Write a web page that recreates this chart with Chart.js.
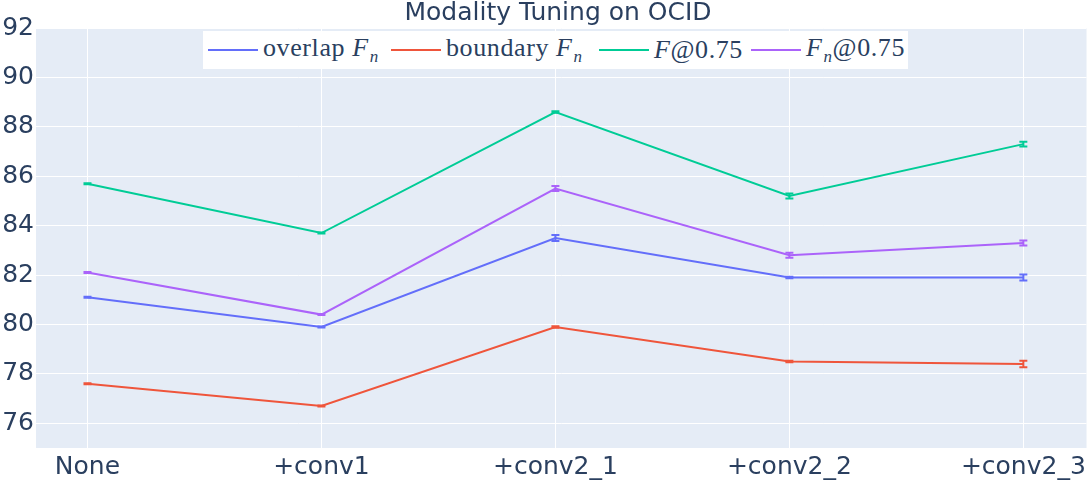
<!DOCTYPE html>
<html>
<head>
<meta charset="utf-8">
<script src="https://cdn.jsdelivr.net/npm/chart.js@4"></script>
<style>
  body { margin: 0; background: #fff; }
  #wrap { position: relative; width: 1090px; height: 480px; }
  #legend {
    position: absolute; left: 203px; top: 31px; height: 38px; width: 705px;
    background: #fff; display: flex; align-items: center; padding-left: 5px; box-sizing: border-box;
    font-family: "Liberation Serif", "DejaVu Serif", serif; font-size: 26px; color: #2a3f5f;
    letter-spacing: 0.6px; white-space: nowrap;
  }
  #legend .item { display: flex; align-items: center; flex: none; }
  #legend .swatch { width: 50px; height: 2px; margin-right: 5px; flex: none; }
  #legend i { font-style: italic; }
  #legend sub { font-size: 17px; font-style: italic; vertical-align: -6px; margin-left: 1px; }
</style>
</head>
<body>
<div id="wrap">
  <canvas id="chart" width="1090" height="480"></canvas>
  <div id="legend"></div>
</div>
<script>
var categories = ['None', '+conv1', '+conv2_1', '+conv2_2', '+conv2_3'];
var yTicks = [76, 78, 80, 82, 84, 86, 88, 90, 92];

var overlapFn = [81.1, 79.9, 83.5, 81.9, 81.9];
var overlapErr = [0.02, 0.02, 0.12, 0.03, 0.12];
var boundaryFn = [77.6, 76.7, 79.9, 78.5, 78.4];
var boundaryErr = [0.02, 0.02, 0.03, 0.03, 0.13];
var fAt075 = [85.7, 83.7, 88.6, 85.2, 87.3];
var fAt075Err = [0.02, 0.02, 0.03, 0.1, 0.1];
var fnAt075 = [82.1, 80.4, 85.5, 82.8, 83.3];
var fnAt075Err = [0.02, 0.02, 0.1, 0.1, 0.1];

var seriesNames = ['overlap <i>F</i><sub>n</sub>', 'boundary <i>F</i><sub>n</sub>', '<i>F</i>@0.75', '<i>F</i><sub>n</sub>@0.75'];
var colors = ['#636efa', '#EF553B', '#00cc96', '#ab63fa'];
// legend item widths, so swatches land where the reference has them
var legendWidths = [183, 208, 152, 155];

function pts(arr) {
  return arr.map(function(v, i) { return { x: i, y: v }; });
}

var series = [overlapFn, boundaryFn, fAt075, fnAt075];
var errors = [overlapErr, boundaryErr, fAt075Err, fnAt075Err];

var datasets = series.map(function(s, k) {
  return {
    label: seriesNames[k].replace(/<[^>]+>/g, ''),
    data: pts(s),
    errors: errors[k],
    borderColor: colors[k],
    backgroundColor: colors[k],
    borderWidth: 2,
    pointRadius: 0,
    tension: 0
  };
});

var bgPlugin = {
  id: 'plotBg',
  beforeDraw: function(chart) {
    var a = chart.chartArea, c = chart.ctx;
    c.save();
    c.fillStyle = '#E5ECF6';
    c.fillRect(a.left, a.top, a.right - a.left, a.bottom - a.top);
    c.restore();
  },
  afterDraw: function(chart) {
    var c = chart.ctx;
    c.save();
    c.fillStyle = '#2a3f5f';
    c.font = '25px "DejaVu Sans", sans-serif';
    c.textAlign = 'center';
    c.textBaseline = 'middle';
    c.fillText('Modality Tuning on OCID', 558, 13);
    c.restore();
  }
};

var errorBars = {
  id: 'errorBars',
  afterDatasetsDraw: function(chart) {
    var c = chart.ctx, xs = chart.scales.x, ys = chart.scales.y;
    chart.data.datasets.forEach(function(ds) {
      c.save();
      c.strokeStyle = ds.borderColor;
      c.lineWidth = 2;
      ds.data.forEach(function(p, i) {
        var e = ds.errors[i];
        var x = xs.getPixelForValue(p.x);
        var y1 = ys.getPixelForValue(p.y + e), y2 = ys.getPixelForValue(p.y - e);
        c.beginPath();
        c.moveTo(x, y1); c.lineTo(x, y2);
        c.moveTo(x - 4, y1); c.lineTo(x + 4, y1);
        c.moveTo(x - 4, y2); c.lineTo(x + 4, y2);
        c.stroke();
      });
      c.restore();
    });
  }
};

new Chart(document.getElementById('chart').getContext('2d'), {
  type: 'line',
  data: { datasets: datasets },
  plugins: [bgPlugin, errorBars],
  options: {
    responsive: false,
    animation: false,
    layout: { padding: { top: 28, right: 3, left: 0, bottom: 0 } },
    plugins: { legend: { display: false }, tooltip: { enabled: false } },
    scales: {
      x: {
        type: 'linear',
        min: -0.22,
        max: 4.27,
        afterBuildTicks: function(scale) {
          scale.ticks = categories.map(function(_, i) { return { value: i }; });
        },
        afterFit: function(scale) { scale.height = 32; },
        grid: { color: '#ffffff', lineWidth: 1, drawTicks: false },
        border: { display: false },
        ticks: {
          color: '#2a3f5f',
          font: { family: '"DejaVu Sans", sans-serif', size: 25 },
          padding: 4,
          maxRotation: 0,
          autoSkip: false,
          callback: function(v) { return categories[v]; }
        }
      },
      y: {
        min: 75,
        max: 92,
        afterBuildTicks: function(scale) {
          scale.ticks = yTicks.map(function(v) { return { value: v }; });
        },
        afterFit: function(scale) { scale.width = 36; },
        grid: { color: '#ffffff', lineWidth: 1, drawTicks: false },
        border: { display: false },
        ticks: {
          color: '#2a3f5f',
          font: { family: '"DejaVu Sans", sans-serif', size: 25 },
          padding: 2
        }
      }
    }
  }
});

var legend = document.getElementById('legend');
seriesNames.forEach(function(n, k) {
  var item = document.createElement('div');
  item.className = 'item';
  item.style.width = legendWidths[k] + 'px';
  item.innerHTML = '<span class="swatch" style="background:' + colors[k] + '"></span><span>' + n + '</span>';
  legend.appendChild(item);
});
</script>
</body>
</html>
